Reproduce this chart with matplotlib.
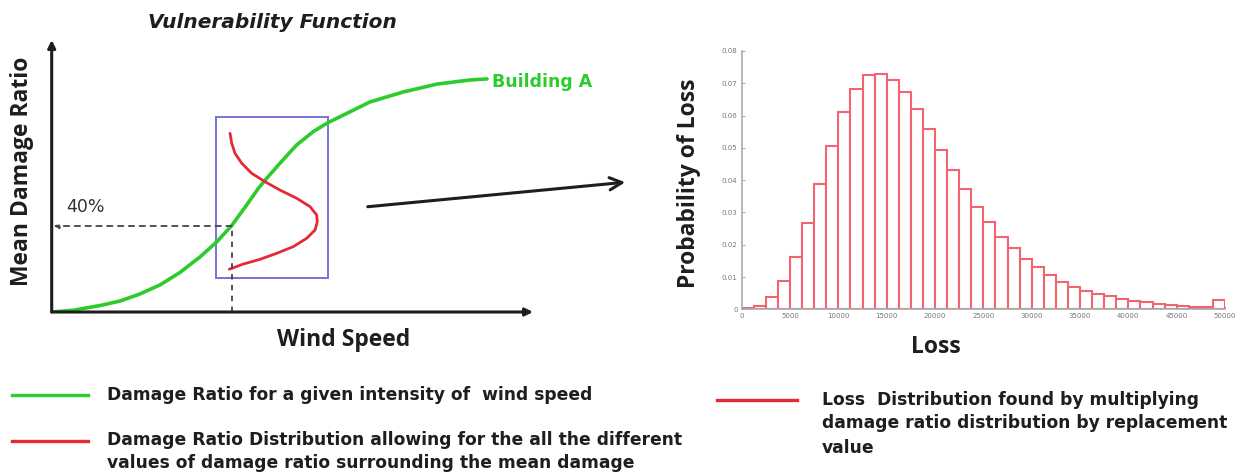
import numpy as np
import matplotlib
matplotlib.use("Agg")
import matplotlib.pyplot as plt
from matplotlib.lines import Line2D
from matplotlib.patches import Rectangle, FancyArrowPatch

# --- vulnerability curve (wind speed 0-100, damage ratio) -------------------
wind = [0.0, 4.43, 10.04, 14.19, 18.35, 22.50, 26.66, 30.81, 34.28, 37.40,
        40.52, 42.93, 44.67, 47.43, 50.90, 54.35, 57.35, 59.90, 66.13, 72.99,
        80.05, 86.91, 90.44]
mdr = [0.0, 0.008, 0.030, 0.051, 0.084, 0.126, 0.184, 0.256, 0.326, 0.402,
       0.498, 0.575, 0.622, 0.692, 0.777, 0.839, 0.880, 0.908, 0.977, 1.023,
       1.060, 1.079, 1.084]

# sideways damage-ratio distribution drawn inside the box
dist_x = [37.05, 37.40, 38.08, 39.48, 41.55, 44.32, 47.43, 50.90, 53.67, 55.06,
          55.18, 54.71, 52.98, 50.20, 46.75, 43.28, 39.81, 37.40, 36.90]
dist_y = [0.831, 0.785, 0.738, 0.692, 0.645, 0.606, 0.567, 0.529, 0.490, 0.451,
          0.420, 0.381, 0.343, 0.304, 0.273, 0.245, 0.223, 0.203, 0.199]

mean_mdr = 0.40
mean_wind = 37.4
box = (34.07, 0.157, 57.35, 0.908)   # x0, y0, x1, y1

# --- loss histogram ---------------------------------------------------------
bin_width = 1250
loss_prob = [0.0003, 0.0010, 0.0037, 0.0088, 0.0163, 0.0268, 0.0388, 0.0507,
             0.0610, 0.0682, 0.0725, 0.0730, 0.0710, 0.0674, 0.0620, 0.0557,
             0.0493, 0.0431, 0.0372, 0.0318, 0.0269, 0.0225, 0.0191, 0.0157,
             0.0132, 0.0106, 0.0086, 0.0070, 0.0057, 0.0047, 0.0040, 0.0031,
             0.0026, 0.0022, 0.0016, 0.0013, 0.0011, 0.0008, 0.0007, 0.0029]
loss_ticks = list(range(0, 50001, 5000))
prob_ticks = [0, 0.01, 0.02, 0.03, 0.04, 0.05, 0.06, 0.07, 0.08]
prob_labels = ["0", "0.01", "0.02", "0.03", "0.04", "0.05", "0.06", "0.07", "0.08"]

GREEN = "#2ccc2c"
RED = "#e52a36"
PINK = "#f26470"
BLUE = "#7474d4"
INK = "#1e1e1e"
BODY = "DejaVu Sans"
HEAD = "Open Sans"

W, H = 1238, 476
fig = plt.figure(figsize=(W / 100, H / 100), dpi=100)


def fx(px):
    return px / W


def fy(py):
    return 1 - py / H


# left panel
ax = fig.add_axes([fx(51.7), fy(312), fx(533 - 51.7), (312 - 40) / H])
ax.set_xlim(0, 100)
ax.set_ylim(0, 1.265)
ax.axis("off")

for tip in [(0, 1.0), (1.0, 0)]:
    ax.annotate("", xy=tip, xytext=(0, 0), xycoords="axes fraction",
                arrowprops=dict(arrowstyle="-|>", lw=2.2, color=INK,
                                mutation_scale=11, shrinkA=0, shrinkB=0))

ax.add_patch(Rectangle((box[0], box[1]), box[2] - box[0], box[3] - box[1],
                       fill=False, ec=BLUE, lw=1.4))
ax.plot(wind, mdr, color=GREEN, lw=2.6, solid_capstyle="round",
        solid_joinstyle="round")
ax.plot(dist_x, dist_y, color=RED, lw=2.0, solid_capstyle="round",
        solid_joinstyle="round")

ax.plot([mean_wind, mean_wind], [0, mean_mdr], color="#444444", lw=1.3,
        ls=(0, (3, 3)))
ax.annotate("", xy=(0.4, mean_mdr), xytext=(mean_wind, mean_mdr),
            arrowprops=dict(arrowstyle="-|>", lw=1.3, color="#444444",
                            ls=(0, (3, 3)), mutation_scale=7,
                            shrinkA=0, shrinkB=0))
ax.text(7.1, 0.488, "40%", fontsize=12.5, color="#333333", family=BODY,
        ha="center", va="center")
ax.text(91.5, 1.07, "Building A", fontsize=12.5, color=GREEN, family=BODY,
        fontweight="bold", ha="left", va="center")

fig.text(fx(272), fy(23), "Vulnerability Function", fontsize=14.5,
         fontweight="bold", fontstyle="italic", family=BODY, color=INK,
         ha="center", va="center")
fig.text(fx(22), fy(171), "Mean Damage Ratio", fontsize=16.5, fontweight="bold",
         family=HEAD, color=INK, rotation=90, ha="center", va="center")
fig.text(fx(344), fy(340), "Wind Speed", fontsize=16.5, fontweight="bold",
         family=HEAD, color=INK, ha="center", va="center")

# connecting arrow
fig.add_artist(FancyArrowPatch(
    (fx(365), fy(207)), (fx(628), fy(182)), transform=fig.transFigure,
    arrowstyle="->", mutation_scale=22, lw=2.2, color=INK))

# right panel: histogram
axh = fig.add_axes([fx(741.7), fy(309.3), fx(1225 - 741.7), (309.3 - 50.9) / H])
edges = np.arange(len(loss_prob)) * bin_width
axh.bar(edges, loss_prob, width=bin_width, align="edge", color="white",
        edgecolor=PINK, lw=1.5)
axh.set_xlim(0, 50000)
axh.set_ylim(0, 0.08)
axh.set_xticks(loss_ticks)
axh.set_xticklabels([str(t) for t in loss_ticks])
axh.set_yticks(prob_ticks)
axh.set_yticklabels(prob_labels)
axh.tick_params(labelsize=5, labelcolor="#777777", color="#999999",
                direction="in", length=2, width=0.6, pad=3)
for side in ("top", "right"):
    axh.spines[side].set_visible(False)
for side in ("left", "bottom"):
    axh.spines[side].set_color("#aaaaaa")
    axh.spines[side].set_linewidth(1.2)

fig.text(fx(689), fy(183), "Probability of Loss", fontsize=16.5,
         fontweight="bold", family=HEAD, color=INK, rotation=90,
         ha="center", va="center")
fig.text(fx(936), fy(347), "Loss", fontsize=16.5, fontweight="bold",
         family=HEAD, color=INK, ha="center", va="center")

# bottom key
key_lines = [((12, 88), 395, GREEN), ((12, 88), 441, RED), ((717, 797), 400, RED)]
for (x0, x1), y, c in key_lines:
    fig.add_artist(Line2D([fx(x0), fx(x1)], [fy(y), fy(y)], color=c, lw=2.4,
                          transform=fig.transFigure))

key_text = [
    (107, 395, "Damage Ratio for a given intensity of  wind speed"),
    (107, 440, "Damage Ratio Distribution allowing for the all the different"),
    (107, 463, "values of damage ratio surrounding the mean damage"),
    (822, 400, "Loss  Distribution found by multiplying"),
    (822, 423, "damage ratio distribution by replacement"),
    (822, 448, "value"),
]
for x, y, s in key_text:
    fig.text(fx(x), fy(y), s, fontsize=12.3, fontweight="bold", family=BODY,
             color=INK, ha="left", va="center")

fig.savefig("out.png", dpi=100)
